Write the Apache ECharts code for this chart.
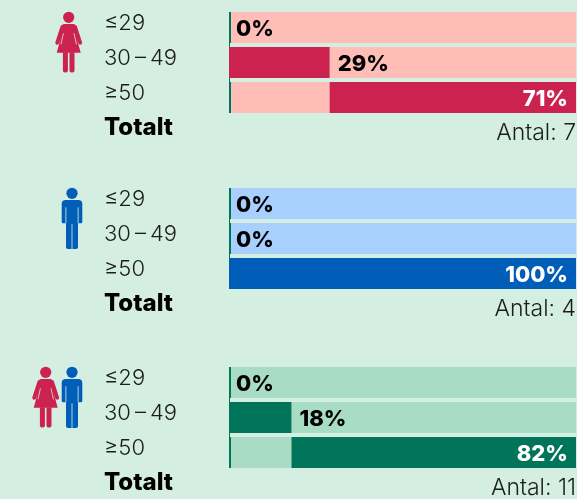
<!DOCTYPE html>
<html><head><meta charset="utf-8">
<style>html,body{margin:0;padding:0;background:#d4eee1;height:499px;overflow:hidden}#c{width:577px;height:520px}</style>
<script src="https://cdn.jsdelivr.net/npm/echarts@6/dist/echarts.min.js"></script>
</head><body><div id="c"></div>
<script>
const categories = ['≤29', '30\u2009–\u200949', '≥50', 'Totalt'];
const womenLead = [0, 0, 29];
const womenShare = [0, 29, 71];
const womenTrail = [100, 71, 0];
const menLead = [0, 0, 0];
const menShare = [0, 0, 100];
const menTrail = [100, 100, 0];
const allLead = [0, 0, 18];
const allShare = [0, 18, 82];
const allTrail = [100, 82, 0];
const totals = [7, 4, 11];

const BG = '#d4eee1', PINK = '#cc224f', BLUE = '#005eb8', GREEN = '#00755a';
const FONT = 'Inter';
const groups = [
  { top: 10, lead: womenLead, share: womenShare, trail: womenTrail, total: totals[0], dark: PINK, light: '#ffbdb8' },
  { top: 186, lead: menLead, share: menShare, trail: menTrail, total: totals[1], dark: BLUE, light: '#a8d0ff' },
  { top: 365, lead: allLead, share: allShare, trail: allTrail, total: totals[2], dark: GREEN, light: '#a8dcc5' }
];

const grid = [], xAxis = [], yAxis = [], series = [];
groups.forEach((g, i) => {
  grid.push({ left: 229, width: 347, top: g.top, height: 140 });
  xAxis.push({ gridIndex: i, type: 'value', min: 0, max: 100, show: false });
  yAxis.push({
    gridIndex: i, type: 'category', inverse: true, data: categories,
    axisLine: { show: false }, axisTick: { show: false },
    axisLabel: {
      margin: 125, align: 'left', color: '#1c1c1c', fontFamily: FONT, fontWeight: 300, fontSize: 22,
      padding: [0, 0, 8, 0],
      formatter: v => v === 'Totalt' ? '{b|' + v + '}' : v,
      rich: { b: { fontFamily: FONT, fontWeight: 800, fontSize: 24, color: '#000', padding: [0, 0, 2, 0] } }
    }
  });
  const base = { type: 'bar', xAxisIndex: i, yAxisIndex: i, stack: 's' + i, barWidth: 31 };
  series.push({ ...base, name: 'lead' + i, z: 1, silent: true, itemStyle: { color: g.light }, data: g.lead });
  series.push({
    ...base, name: 'share' + i, z: 4, itemStyle: { color: g.dark },
    data: g.share.map(v => ({
      value: v,
      label: v >= 50
        ? { show: true, position: 'insideRight', distance: 8, color: '#fff', offset: [0, 2] }
        : { show: true, position: 'right', distance: v === 0 ? 7 : 8, color: '#000', offset: [0, 2] }
    })),
    label: { fontFamily: FONT, fontWeight: 800, fontSize: 22, formatter: p => p.value + '%' }
  });
  series.push({ ...base, name: 'trail' + i, z: 1, silent: true, itemStyle: { color: g.light }, data: g.trail });
  series.push({
    ...base, name: 'total' + i, z: 1, silent: true, itemStyle: { color: 'transparent' },
    data: [null, null, null, 100],
    label: {
      show: true, position: 'insideRight', distance: 0, color: '#1c1c1c', offset: [0, 1],
      fontFamily: FONT, fontWeight: 300, fontSize: 23, formatter: 'Antal: ' + g.total
    }
  });
  series.push({
    type: 'custom', name: 'rule' + i, xAxisIndex: i, yAxisIndex: i, z: 3, silent: true,
    data: [[0, 0], [0, 1], [0, 2]],
    renderItem: (params, api) => {
      const c = api.coord([api.value(0), api.value(1)]);
      const kids = [{ type: 'rect', shape: { x: c[0], y: c[1] - 15.5, width: 2, height: 31 }, style: { fill: GREEN } }];
      if (api.value(1) < 2) kids.push({ type: 'rect', shape: { x: c[0], y: c[1] + 15, width: 1, height: 5 }, style: { fill: GREEN } });
      return { type: 'group', children: kids };
    }
  });
});

function woman(x, y) {
  const f = { fill: PINK }, gap = { stroke: BG, lineWidth: 0.8 };
  return {
    type: 'group', x, y, children: [
      { type: 'circle', shape: { cx: 0, cy: 0, r: 5.6 }, style: f },
      { type: 'polygon', shape: { points: [[-5, 6.7], [5, 6.7], [8, 8.5], [13.5, 25.5], [12.5, 27.5], [10, 27], [8, 21], [12, 35.4], [-12, 35.4], [-8, 21], [-10, 27], [-12.5, 27.5], [-13.5, 25.5], [-8, 8.5]] }, style: f },
      { type: 'rect', shape: { x: -5.8, y: 35, width: 5, height: 20.3, r: [0, 0, 2, 2] }, style: f },
      { type: 'rect', shape: { x: 0.8, y: 35, width: 5, height: 20.3, r: [0, 0, 2, 2] }, style: f },
      { type: 'line', shape: { x1: -5.3, y1: 16, x2: -7.7, y2: 27 }, style: gap },
      { type: 'line', shape: { x1: 5.3, y1: 16, x2: 7.7, y2: 27 }, style: gap }
    ]
  };
}
function man(x, y) {
  const f = { fill: BLUE }, g = { fill: BG };
  return {
    type: 'group', x, y, children: [
      { type: 'circle', shape: { cx: 0, cy: 0, r: 5.6 }, style: f },
      { type: 'rect', shape: { x: -10.3, y: 6.7, width: 20.6, height: 23.3, r: [4, 4, 1.5, 1.5] }, style: f },
      { type: 'rect', shape: { x: -6, y: 10, width: 12, height: 45.7, r: [0, 0, 2, 2] }, style: f },
      { type: 'rect', shape: { x: -6.5, y: 14, width: 0.8, height: 16 }, style: g },
      { type: 'rect', shape: { x: 5.7, y: 14, width: 0.8, height: 16 }, style: g },
      { type: 'rect', shape: { x: -0.4, y: 31, width: 0.8, height: 25 }, style: g }
    ]
  };
}

const chart = echarts.init(document.getElementById('c'), null, { renderer: 'canvas' });
chart.setOption({
  animation: false, backgroundColor: BG, tooltip: { show: false }, legend: { show: false },
  grid, xAxis, yAxis, series,
  graphic: [woman(68.7, 17.3), man(72, 193.3), woman(45.7, 372.3), man(72, 372.3)]
});
</script></body></html>
